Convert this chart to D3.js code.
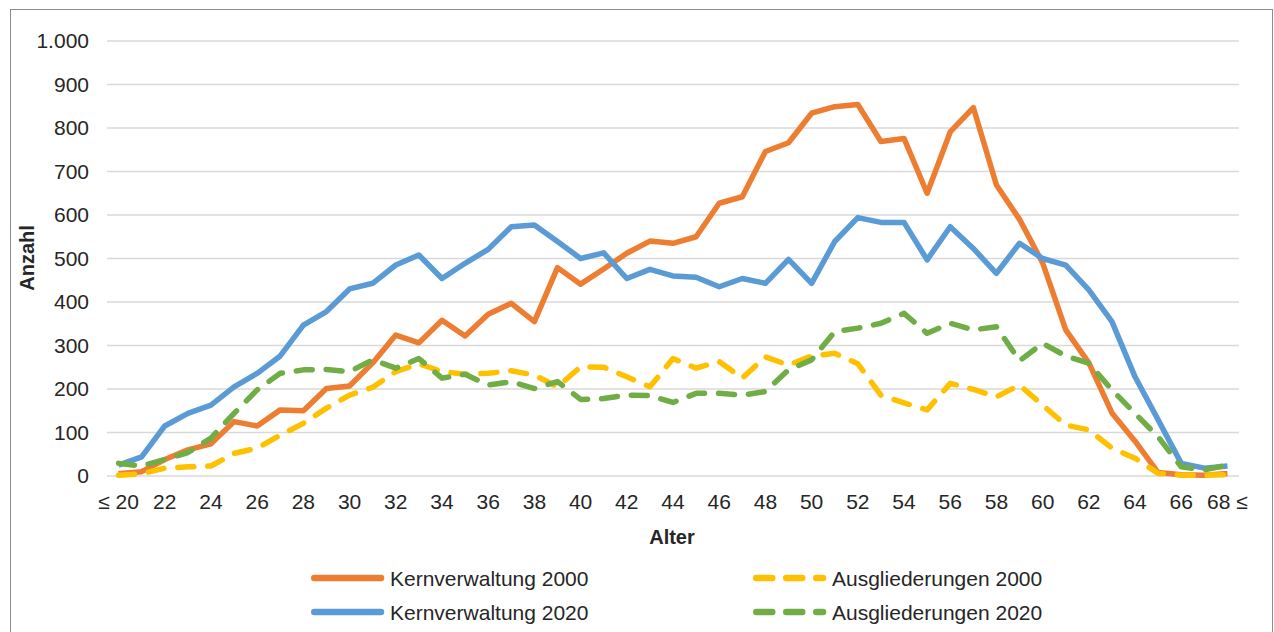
<!DOCTYPE html>
<meta charset="utf-8">
<script src="https://d3js.org/d3.v7.min.js"></script>
<style>
body{margin:0;background:#fff;}
text{font-family:"Liberation Sans",Arial,sans-serif;fill:#262626;}
</style>
<body>
<div id="chart"></div>
<script>
// Alter (Kategorien)
var ages = ["≤ 20","21","22","23","24","25","26","27","28","29","30","31","32","33","34","35","36","37","38","39","40","41","42","43","44","45","46","47","48","49","50","51","52","53","54","55","56","57","58","59","60","61","62","63","64","65","66","67","68 ≤"];
var kern2000 = [5,10,38,60,74,125,115,152,150,201,207,260,324,306,358,322,372,397,355,479,441,476,512,540,535,550,627,642,746,766,834,849,854,769,776,650,791,847,669,590,490,336,260,145,80,8,3,2,6];
var kern2020 = [25,44,115,144,163,205,236,276,347,378,430,443,485,508,454,489,521,573,577,539,500,513,454,475,460,457,435,454,443,498,443,539,594,583,583,497,573,523,466,535,500,485,428,355,228,129,29,18,23];
var ausg2000 = [2,5,18,21,23,52,64,94,121,156,186,204,240,258,240,234,236,242,232,205,251,250,228,205,270,248,263,225,274,255,276,282,258,186,168,152,213,199,182,209,163,117,106,64,41,6,2,2,3];
var ausg2020 = [29,23,38,54,87,144,198,236,244,245,240,267,248,270,225,234,209,217,201,217,176,178,186,185,169,190,190,186,194,244,267,332,340,351,374,328,351,336,343,265,305,276,259,198,144,90,21,14,25];
var yTicks = [0,100,200,300,400,500,600,700,800,900,1000];

var series = [
	{name:"Kernverwaltung 2000",values:kern2000,color:"#ED7D31",dash:null},
	{name:"Ausgliederungen 2000",values:ausg2000,color:"#FFC000",dash:"16,14"},
	{name:"Kernverwaltung 2020",values:kern2020,color:"#5B9BD5",dash:null},
	{name:"Ausgliederungen 2020",values:ausg2020,color:"#70AD47",dash:"16,14"}
];

var W = 1274, H = 632;
var svg = d3.select("#chart").append("svg").attr("width",W).attr("height",H);

// Rahmen
svg.append("rect").attr("x",10.5).attr("y",9.5).attr("width",1262).attr("height",640)
	.attr("fill","#fff").attr("stroke","#8c8c8c").attr("stroke-width",1);

var x = d3.scaleBand().domain(ages).range([107,1239]).padding(0);
var y = d3.scaleLinear().domain([0,1000]).range([476,41]);
var cx = function(a){ return x(a)+x.bandwidth()/2; };

// Gitterlinien
svg.append("g").selectAll("line").data(yTicks).join("line")
	.attr("x1",107).attr("x2",1239)
	.attr("y1",d=>y(d)).attr("y2",d=>y(d))
	.attr("stroke","#d9d9d9").attr("stroke-width",1.5);

// y-Achse
var fmt = d3.formatLocale({decimal:",",thousands:".",grouping:[3],currency:["","€"]}).format(",d");
var yAxis = svg.append("g").attr("transform","translate(89,0)")
	.call(d3.axisLeft(y).tickValues(yTicks).tickSize(0).tickPadding(0).tickFormat(fmt));
yAxis.select(".domain").remove();
yAxis.selectAll("text").attr("font-size",21).attr("font-family","Liberation Sans, Arial, sans-serif").attr("fill","#262626");

// x-Achse
var xAxis = svg.append("g").attr("transform","translate(0,476)")
	.call(d3.axisBottom(x).tickValues(ages.filter((d,i)=>i%2===0)).tickSize(0).tickPadding(18));
xAxis.select(".domain").remove();
xAxis.selectAll("text").attr("font-size",21).attr("font-family","Liberation Sans, Arial, sans-serif").attr("fill","#262626");

// Achsentitel
svg.append("text").attr("x",672).attr("y",544).attr("text-anchor","middle")
	.attr("font-size",20).attr("font-weight","bold").attr("fill","#000").text("Alter");
svg.append("text").attr("transform","translate(34,258) rotate(-90)").attr("text-anchor","middle")
	.attr("font-size",20).attr("font-weight","bold").attr("fill","#000").text("Anzahl");

// Linien
var line = d3.line().x((d,i)=>cx(ages[i])).y(d=>y(d));
svg.append("g").selectAll("path").data(series).join("path")
	.attr("d",d=>line(d.values))
	.attr("fill","none")
	.attr("stroke",d=>d.color)
	.attr("stroke-width",5.5)
	.attr("stroke-linejoin","round")
	.attr("stroke-linecap",d=>d.dash?"round":"butt")
	.attr("stroke-dasharray",d=>d.dash);

// Legende
var legPos = [{x:311,y:578},{x:753,y:578},{x:311,y:612},{x:753,y:612}];
var leg = svg.append("g").selectAll("g").data(series).join("g")
	.attr("transform",(d,i)=>"translate("+legPos[i].x+","+legPos[i].y+")");
leg.append("line").attr("x1",3.25).attr("x2",70).attr("y1",0).attr("y2",0)
	.attr("stroke",d=>d.color).attr("stroke-width",6.5)
	.attr("stroke-linecap","round")
	.attr("stroke-dasharray",d=>d.dash);
leg.append("text").attr("x",79).attr("y",7.5).attr("font-size",21).text(d=>d.name);
</script>
</body>
